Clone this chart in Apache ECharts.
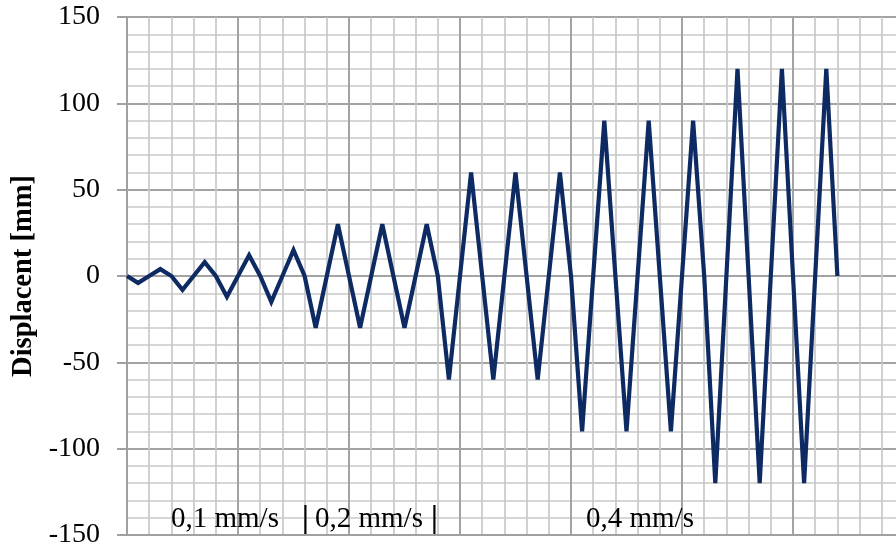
<!DOCTYPE html>
<html>
<head>
<meta charset="utf-8">
<script src="https://cdn.jsdelivr.net/npm/echarts@6/dist/echarts.min.js"></script>
<style>
html,body{margin:0;padding:0;background:#fff;}
#chart{width:896px;height:547px;}
</style>
</head>
<body>
<div id="chart"></div>
<script>
// Displacement [mm] at each step (step index = x position)
var displacement = [
  0, -4, 0, 4, 0,
  -8, 0, 8, 0,
  -12, 0, 12, 0,
  -15, 0, 15, 0,
  -30, 0, 30, 0, -30, 0, 30, 0, -30, 0, 30, 0,
  -60, 0, 60, 0, -60, 0, 60, 0, -60, 0, 60, 0,
  -90, 0, 90, 0, -90, 0, 90, 0, -90, 0, 90, 0,
  -120, 0, 120, 0, -120, 0, 120, 0, -120, 0, 120, 0
];
var yTicks = [-150, -100, -50, 0, 50, 100, 150];
var rateLabels = ['0,1 mm/s', '0,2 mm/s', '0,4 mm/s'];
var axisTitle = 'Displacent [mm]';

var FONT = "'Liberation Serif', 'Times New Roman', serif";
var points = displacement.map(function (v, i) { return [i, v]; });

var chart = echarts.init(document.getElementById('chart'), null, {renderer: 'canvas'});
chart.setOption({
  animation: false,
  backgroundColor: '#ffffff',
  grid: {left: 127, right: -8, top: 17, bottom: 12, containLabel: false, outerBoundsMode: 'none'},
  xAxis: {
    type: 'value', min: 0, max: 70, interval: 10,
    axisLine: {show: true, onZero: false, lineStyle: {color: '#a0a0a0', width: 2}},
    axisTick: {show: false},
    axisLabel: {show: false},
    splitLine: {show: true, lineStyle: {color: '#a3a3a3', width: 2}},
    minorTick: {show: false, splitNumber: 5},
    minorSplitLine: {show: true, lineStyle: {color: '#c8c8c8', width: 1.7}}
  },
  yAxis: {
    type: 'value', min: yTicks[0], max: yTicks[yTicks.length - 1], interval: 50,
    name: axisTitle, nameLocation: 'middle', nameRotate: 90, nameGap: 89,
    nameTextStyle: {fontFamily: FONT, fontWeight: 'bold', fontSize: 28.5, color: '#000'},
    axisLine: {show: true, lineStyle: {color: '#a0a0a0', width: 2}},
    axisTick: {show: true, inside: false, length: 10, lineStyle: {color: '#a0a0a0', width: 2}},
    axisLabel: {fontFamily: FONT, fontSize: 28, color: '#000', margin: 27},
    splitLine: {show: true, lineStyle: {color: '#a3a3a3', width: 2}},
    minorTick: {show: false, splitNumber: 5},
    minorSplitLine: {show: true, lineStyle: {color: '#c8c8c8', width: 1.7}}
  },
  series: [{
    type: 'line',
    data: points,
    showSymbol: false,
    symbol: 'none',
    lineStyle: {color: '#0d2a63', width: 4.2, join: 'miter', miterLimit: 4},
    z: 5
  }],
  graphic: [
    {type: 'text', left: 171, top: 505, z: 10, style: {text: rateLabels[0], font: "29px " + FONT, fill: '#000'}},
    {type: 'text', left: 302, top: 503, z: 10, style: {text: '|', font: "bold 31px " + FONT, fill: '#000'}},
    {type: 'text', left: 315, top: 505, z: 10, style: {text: rateLabels[1], font: "29px " + FONT, fill: '#000'}},
    {type: 'text', left: 431, top: 503, z: 10, style: {text: '|', font: "bold 31px " + FONT, fill: '#000'}},
    {type: 'text', left: 586, top: 505, z: 10, style: {text: rateLabels[2], font: "29px " + FONT, fill: '#000'}}
  ]
});
</script>
</body>
</html>
